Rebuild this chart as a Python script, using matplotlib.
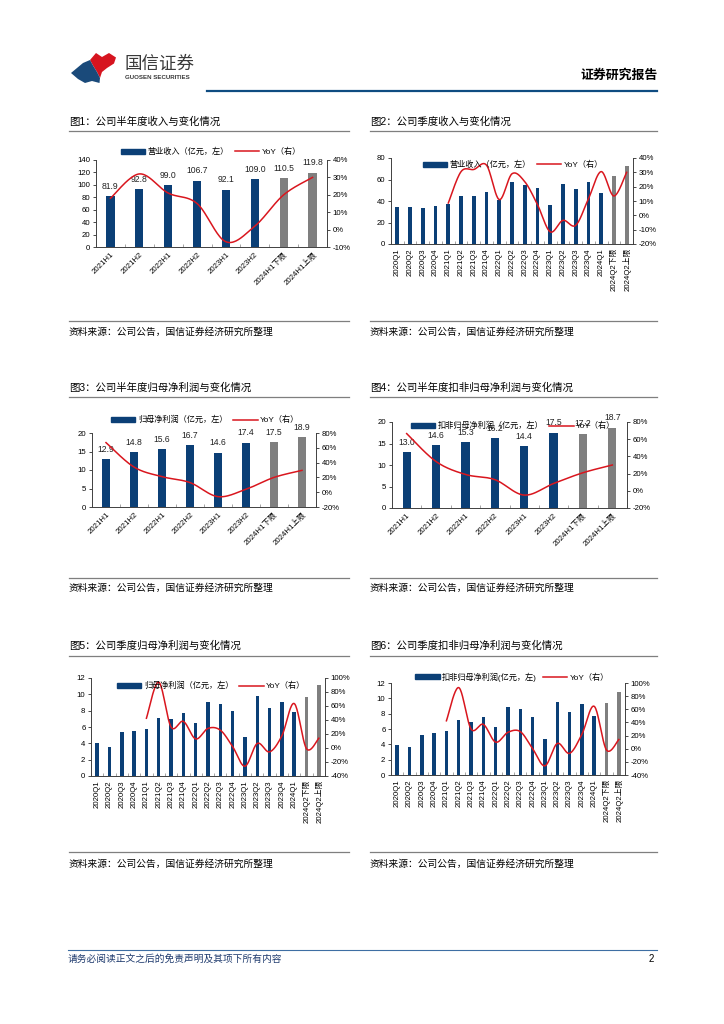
import numpy as np
import matplotlib
matplotlib.use('Agg')
import matplotlib.pyplot as plt
from matplotlib.patches import Polygon, Patch
from matplotlib.lines import Line2D
from matplotlib.ticker import FuncFormatter, MultipleLocator

plt.rcParams['font.family'] = ['Liberation Sans', 'Noto Sans CJK SC', 'DejaVu Sans']
plt.rcParams['axes.unicode_minus'] = False

W, H = 724, 1024
BLUE = '#0B3F76'
GRAY = '#7F7F7F'
RED = '#D9161E'
NAN = np.nan

# ---- data ----
half_labels = ['2021H1', '2021H2', '2022H1', '2022H2', '2023H1', '2023H2',
               '2024H1下限', '2024H1上限']
quarter_labels = ['2020Q1', '2020Q2', '2020Q3', '2020Q4',
                  '2021Q1', '2021Q2', '2021Q3', '2021Q4',
                  '2022Q1', '2022Q2', '2022Q3', '2022Q4',
                  '2023Q1', '2023Q2', '2023Q3', '2023Q4',
                  '2024Q1', '2024Q2下限', '2024Q2上限']

rev_half = [81.9, 92.8, 99.0, 106.7, 92.1, 109.0, 110.5, 119.8]
rev_half_yoy = [18, 32, 21, 15, -7, 2, 20, 30]

rev_q = [34.5, 34.3, 33.6, 35.6, 37.2, 44.7, 44.5, 48.3, 41.2, 57.8,
         54.8, 51.9, 36.4, 55.7, 50.9, 58.1, 47.5, 63.0, 72.3]
rev_q_yoy = [NAN, NAN, NAN, NAN, 8.6, 30.5, 32, 35, 11, 29, 23.5, 7.5,
             -11.5, -3.5, -7, 11.5, 30.5, 13.5, 30]

np_half = [12.9, 14.8, 15.6, 16.7, 14.6, 17.4, 17.5, 18.9]
np_half_yoy = [67, 34, 21, 13, -6, 4, 20, 29.5]

npd_half = [13.0, 14.6, 15.3, 16.2, 14.4, 17.5, 17.2, 18.7]
npd_half_yoy = [66.5, 34, 19, 13, -5, 8.5, 21, 30]

np_q = [4.0, 3.6, 5.4, 5.55, 5.75, 7.1, 7.0, 7.75, 6.45, 9.1, 8.8, 7.9,
        4.8, 9.75, 8.3, 9.1, 7.8, 9.7, 11.1]
np_q_yoy = [NAN, NAN, NAN, NAN, 42.5, 94, 30, 38, 13, 28, 25.5, 2,
            -26, 6.5, -5.5, 17.5, 63.5, -1, 14]

npd_q = [3.93, 3.62, 5.28, 5.54, 5.76, 7.15, 6.94, 7.55, 6.28, 8.9, 8.64,
         7.55, 4.71, 9.55, 8.16, 9.2, 7.72, 9.42, 10.82]
npd_q_yoy = [NAN, NAN, NAN, NAN, 42.5, 93, 30, 37, 10, 25, 26, 0,
             -26, 8, -7, 22, 64.5, -2, 14]

source = '资料来源：公司公告，国信证券经济研究所整理'


def smooth(xs, ys, n=24):
    # excel-like smoothed line (catmull-rom as bezier)
    xs, ys = np.asarray(xs, float), np.asarray(ys, float)
    t = np.linspace(0, 1, n)[:, None]
    pts = np.column_stack([xs, ys])
    out = []
    for i in range(len(xs) - 1):
        p0, p1 = pts[i], pts[i + 1]
        pm = pts[max(i - 1, 0)]
        pn = pts[min(i + 2, len(xs) - 1)]
        c1 = p0 + (p1 - pm) / 6
        c2 = p1 - (pn - p0) / 6
        seg = ((1 - t) ** 3 * p0 + 3 * (1 - t) ** 2 * t * c1
               + 3 * (1 - t) * t ** 2 * c2 + t ** 3 * p1)
        out.append(seg if i == 0 else seg[1:])
    out = np.vstack(out)
    return out[:, 0], out[:, 1]


fig = plt.figure(figsize=(W / 100, H / 100), dpi=100)
page = fig.add_axes([0, 0, 1, 1])
page.set_xlim(0, W)
page.set_ylim(H, 0)
page.axis('off')

# ---- header ----
red_logo = [(90, 60), (96, 53), (102, 57), (109, 53), (116, 57.5),
            (114, 63.5), (107, 68), (102, 72), (100, 78),
            (97, 72), (93, 65.5)]
blue_logo = [(71, 73), (83, 63), (90, 60), (93, 65.5), (97, 72),
             (100, 78), (99.5, 83), (92, 81), (85, 83), (78, 79)]
page.add_patch(Polygon(red_logo, closed=True, color='#D6141F', lw=0))
page.add_patch(Polygon(blue_logo, closed=True, color='#1A4A7A', lw=0))
page.text(125, 64, '国信证券', fontsize=12.6, color='#3a3a3a', va='center', ha='left')
page.text(125, 77.5, 'GUOSEN SECURITIES', fontsize=4.4, fontweight='bold',
          color='#3a3a3a', va='center', ha='left')
page.text(658, 76, '证券研究报告', fontsize=9.3, fontweight='bold', va='center', ha='right')
page.plot([207, 657], [91, 91], color='#0F4C81', lw=1.6)

# ---- titles / sources ----
titles = ['图1：公司半年度收入与变化情况', '图2：公司季度收入与变化情况',
          '图3：公司半年度归母净利润与变化情况', '图4：公司半年度扣非归母净利润与变化情况',
          '图5：公司季度归母净利润与变化情况', '图6：公司季度扣非归母净利润与变化情况']
row_title_y = [122, 388, 646]
row_line_y = [131, 397, 656]
row_src_line_y = [321, 578, 852]
row_src_y = [332, 588, 864]
cols = [(69, 349), (370, 657)]
for r in range(3):
    for c in range(2):
        x0, x1 = cols[c]
        page.text(x0, row_title_y[r], titles[r * 2 + c], fontsize=7.5, va='center', ha='left')
        page.plot([x0, x1], [row_line_y[r]] * 2, color='#7f7f7f', lw=0.9)
        page.plot([x0, x1], [row_src_line_y[r]] * 2, color='#7f7f7f', lw=0.9)
        page.text(x0, row_src_y[r], source, fontsize=7, va='center', ha='left')

# ---- footer ----
page.plot([68, 657], [950, 950], color='#3E6EA3', lw=0.8)
page.text(68, 959, '请务必阅读正文之后的免责声明及其项下所有内容', fontsize=7,
          color='#1F3B6E', va='center', ha='left', style='italic')
page.text(654, 959, '2', fontsize=7, va='center', ha='right')


def add_chart(rect, labels, values, yoy, ylim, ystep, y2lim, y2step,
              name, legend_c, rot, bar_w, show_values):
    l, t, r, b = rect
    ax = fig.add_axes([l / W, 1 - b / H, (r - l) / W, (b - t) / H])
    ax.patch.set_alpha(0)
    x = np.arange(len(labels))
    colors = [BLUE] * (len(labels) - 2) + [GRAY] * 2
    ax.bar(x, values, width=bar_w, color=colors, zorder=2)
    if show_values:
        for xi, v in zip(x, values):
            ax.annotate(f'{v:.1f}', (xi, v), xytext=(0, 4), textcoords='offset points',
                        ha='center', va='bottom', fontsize=6.2, color='#222222')
    ax.set_xlim(-0.5, len(labels) - 0.5)
    ax.set_ylim(*ylim)
    ax.yaxis.set_major_locator(MultipleLocator(ystep))
    ax.set_xticks(x)
    if rot == 45:
        ax.set_xticklabels(labels, rotation=45, ha='right', rotation_mode='anchor')
    else:
        ax.set_xticklabels(labels, rotation=90)
    ax.set_xticks(np.arange(len(labels) + 1) - 0.5, minor=True)
    ax.tick_params(axis='x', which='major', length=0, pad=3, labelsize=5.6)
    ax.tick_params(axis='x', which='minor', length=2.5, direction='in', width=0.5,
                   color='#808080')
    ax.tick_params(axis='y', length=2, width=0.5, labelsize=5.6, pad=2)
    ax.spines['top'].set_visible(False)
    for s in ['left', 'bottom', 'right']:
        ax.spines[s].set_color('#404040')
        ax.spines[s].set_linewidth(0.6)

    ax2 = ax.twinx()
    ax2.set_ylim(*y2lim)
    ax2.yaxis.set_major_locator(MultipleLocator(y2step))
    ax2.yaxis.set_major_formatter(FuncFormatter(lambda v, p: f'{v:.0f}%'))
    ax2.tick_params(axis='y', length=2, width=0.5, labelsize=5.6, pad=2)
    ax2.spines['top'].set_visible(False)
    for s in ['left', 'bottom', 'right']:
        ax2.spines[s].set_color('#404040')
        ax2.spines[s].set_linewidth(0.6)
    yy = np.asarray(yoy, float)
    ok = ~np.isnan(yy)
    sx, sy = smooth(x[ok], yy[ok])
    ax2.plot(sx, sy, color=RED, lw=1.1, zorder=3)

    handles = [Patch(color=BLUE), Line2D([], [], color=RED, lw=1.1)]
    ax2.legend(handles, [name, 'YoY（右）'], loc='center',
               bbox_to_anchor=(legend_c[0] / W, 1 - legend_c[1] / H),
               bbox_transform=fig.transFigure, ncol=2, frameon=False,
               fontsize=5.9, handlelength=3.0, handleheight=0.55,
               handletextpad=0.3, columnspacing=0.7, borderpad=0)
    return ax


add_chart((96, 160, 327, 247), half_labels, rev_half, rev_half_yoy,
          (0, 140), 20, (-10, 40), 10, '营业收入（亿元，左）', (211, 152), 45, 0.29, True)
add_chart((391, 158, 633, 244), quarter_labels, rev_q, rev_q_yoy,
          (0, 80), 20, (-20, 40), 10, '营业收入（亿元，左）', (513, 165), 90, 0.3, False)
add_chart((92, 433, 316, 507), half_labels, np_half, np_half_yoy,
          (0, 20), 5, (-20, 80), 20, '归母净利润（亿元，左）', (205, 420), 45, 0.3, True)
add_chart((392, 422, 627, 508), half_labels, npd_half, npd_half_yoy,
          (0, 20), 5, (-20, 80), 20, '扣非归母净利润（亿元，左）', (513, 426), 45, 0.28, True)
add_chart((91, 678, 325, 776), quarter_labels, np_q, np_q_yoy,
          (0, 12), 2, (-40, 100), 20, '归母净利润（亿元，左）', (211, 686), 90, 0.28, False)
add_chart((391, 683, 625, 775), quarter_labels, npd_q, npd_q_yoy,
          (0, 12), 2, (-40, 100), 20, '扣非归母净利润(亿元，左)', (512, 677), 90, 0.28, False)

fig.savefig('out.png', dpi=100)
